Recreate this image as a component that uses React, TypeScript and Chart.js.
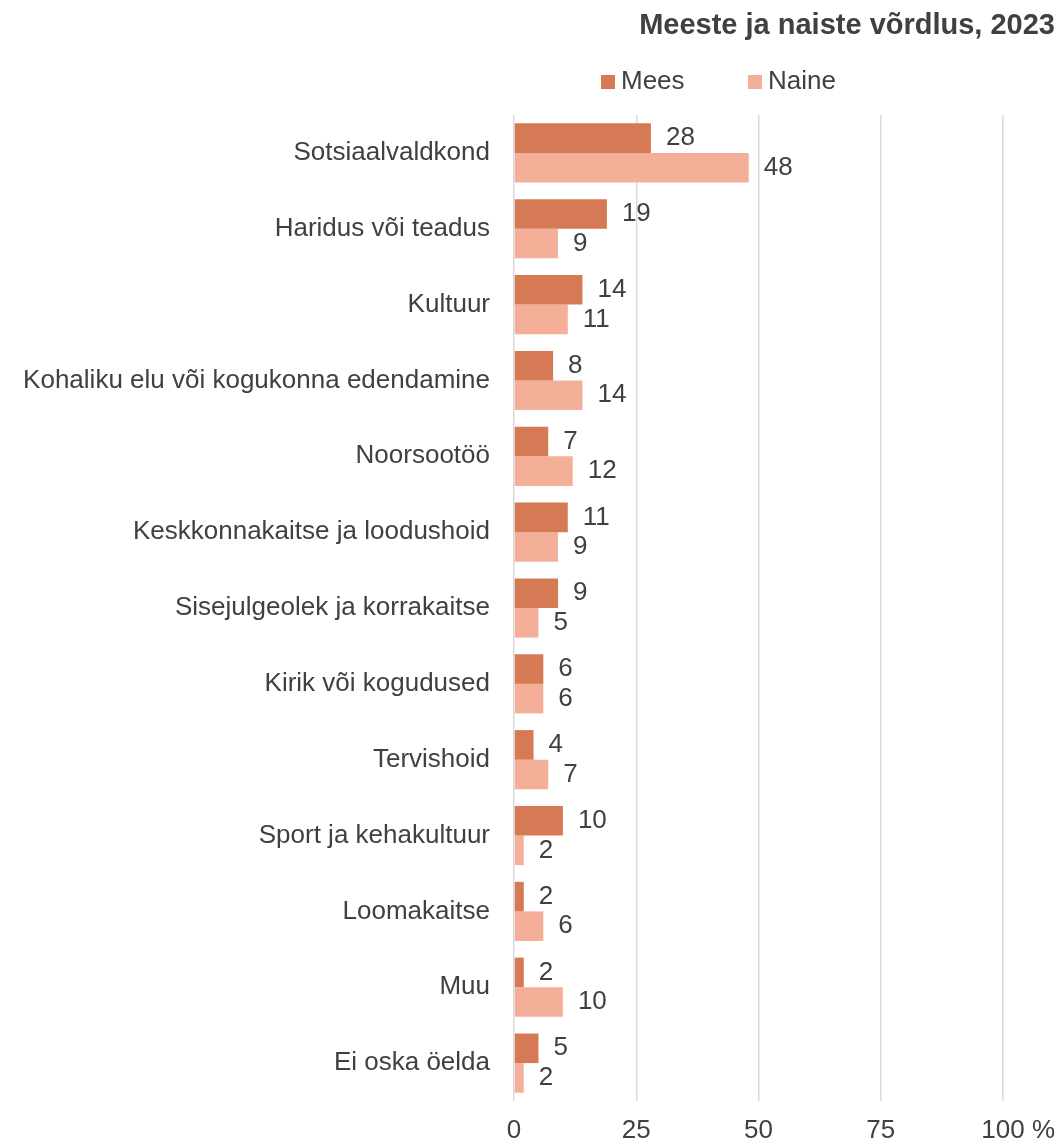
import { useEffect, useRef } from "react";
import { Chart, registerables } from "chart.js";

Chart.register(...registerables);

const chartTitle = "Meeste ja naiste võrdlus, 2023";
const categories = [
  "Sotsiaalvaldkond",
  "Haridus või teadus",
  "Kultuur",
  "Kohaliku elu või kogukonna edendamine",
  "Noorsootöö",
  "Keskkonnakaitse ja loodushoid",
  "Sisejulgeolek ja korrakaitse",
  "Kirik või kogudused",
  "Tervishoid",
  "Sport ja kehakultuur",
  "Loomakaitse",
  "Muu",
  "Ei oska öelda",
];
const seriesNames = ["Mees", "Naine"];
const meesValues = [28, 19, 14, 8, 7, 11, 9, 6, 4, 10, 2, 2, 5];
const naineValues = [48, 9, 11, 14, 12, 9, 5, 6, 7, 2, 6, 10, 2];
const xTickValues = [0, 25, 50, 75, 100];
const xUnit = " %";

const FONT = "'Liberation Sans', Arial, sans-serif";
const TEXT = "#404040";
const COLORS = ["#D57A55", "#F4AF98"];

export default function App() {
  const ref = useRef<HTMLCanvasElement>(null);

  useEffect(() => {
    document.body.style.margin = "0";
    const canvas = ref.current!;
    const overlay = {
      id: "overlay",
      afterDatasetsDraw(chart: any) {
        const ctx = chart.ctx;
        ctx.save();
        ctx.font = `26px ${FONT}`;
        ctx.fillStyle = TEXT;
        ctx.textAlign = "left";
        ctx.textBaseline = "middle";
        chart.data.datasets.forEach((ds: any, di: number) => {
          const meta = chart.getDatasetMeta(di);
          meta.data.forEach((bar: any, i: number) => {
            ctx.fillText(String(ds.data[i]), bar.x + 15, bar.y);
          });
        });
        ctx.restore();
      },
      afterDraw(chart: any) {
        const ctx = chart.ctx;
        ctx.save();
        // title
        ctx.fillStyle = TEXT;
        ctx.font = `bold 29px ${FONT}`;
        ctx.textAlign = "right";
        ctx.textBaseline = "middle";
        ctx.fillText(chartTitle, 1055, 26);
        // legend
        ctx.font = `26px ${FONT}`;
        ctx.textAlign = "left";
        const starts = [601, 748];
        chart.data.datasets.forEach((ds: any, di: number) => {
          const x0 = starts[di];
          ctx.fillStyle = ds.backgroundColor;
          ctx.fillRect(x0, 75, 14, 14);
          ctx.fillStyle = TEXT;
          ctx.fillText(ds.label, x0 + 20, 82);
        });
        // % unit after last tick
        const xs = chart.scales.x;
        const last = xTickValues[xTickValues.length - 1];
        const px = xs.getPixelForValue(last);
        const w = ctx.measureText(String(last)).width;
        ctx.fillText(xUnit, px + w / 2, xs.top + 14 + (26 * 1.2) / 2);
        ctx.restore();
      },
    };

    const chart = new Chart(canvas, {
      type: "bar",
      data: {
        labels: categories,
        datasets: [
          { label: seriesNames[0], data: meesValues, backgroundColor: COLORS[0] },
          { label: seriesNames[1], data: naineValues, backgroundColor: COLORS[1] },
        ],
      },
      options: {
        indexAxis: "y",
        responsive: false,
        animation: false,
        layout: { padding: { top: 115, right: 58, left: 0, bottom: 0 } },
        datasets: { bar: { categoryPercentage: 0.78, barPercentage: 1.0 } } as any,
        plugins: {
          legend: { display: false },
          title: { display: false },
          tooltip: { enabled: false },
        },
        scales: {
          x: {
            min: 0,
            max: 100,
            afterBuildTicks(scale: any) {
              scale.ticks = xTickValues.map((v) => ({ value: v }));
            },
            afterFit(scale: any) {
              scale.height = 44;
            },
            ticks: {
              color: TEXT,
              font: { family: FONT, size: 26 },
              padding: 14,
              maxRotation: 0,
              callback: (v: any) => String(v),
            },
            grid: { color: "#D9D9D9", lineWidth: 1.5, drawTicks: false },
            border: { display: false },
          },
          y: {
            afterFit(scale: any) {
              scale.width = 514;
            },
            ticks: {
              color: TEXT,
              font: { family: FONT, size: 26 },
              padding: 24,
              autoSkip: false,
            },
            grid: { display: false, drawTicks: false },
            border: { display: false },
          },
        },
      },
      plugins: [overlay],
    });
    return () => chart.destroy();
  }, []);

  return (
    <div style={{ width: 1061, height: 1145 }}>
      <canvas ref={ref} width={1061} height={1145} style={{ display: "block" }} />
    </div>
  );
}
